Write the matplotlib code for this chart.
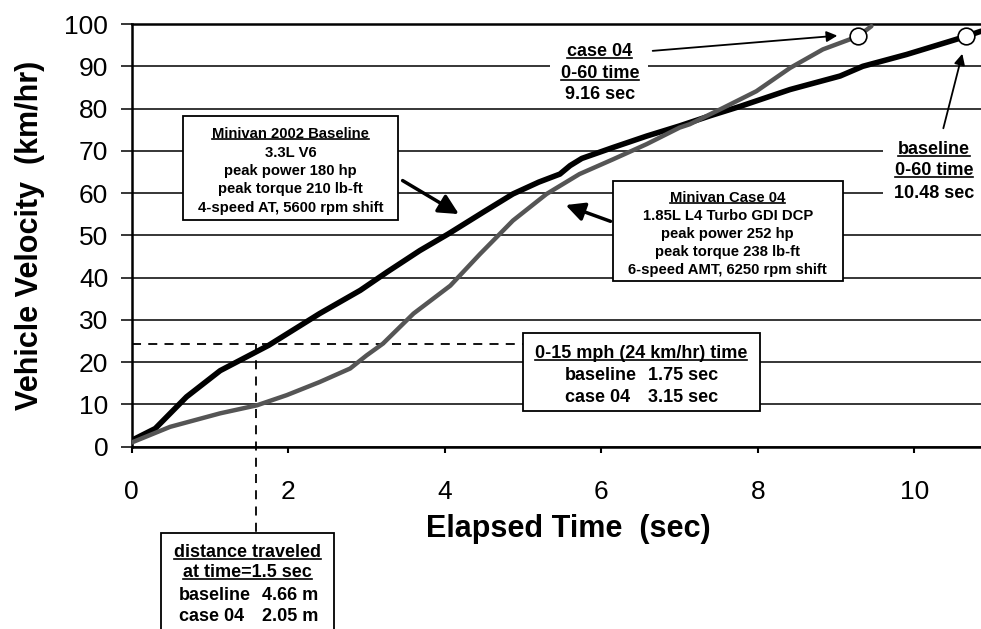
import numpy as np
import matplotlib
matplotlib.use("Agg")
import matplotlib.pyplot as plt
from matplotlib.patches import Rectangle
from matplotlib.lines import Line2D

plt.rcParams['font.family'] = ['Liberation Sans', 'DejaVu Sans']

# baseline minivan 2002 (time s, velocity km/h)
t_base = [0.0, 0.3, 0.7, 1.13, 1.75, 2.4, 2.92, 3.26, 3.68, 4.04, 4.5, 4.87, 5.2, 5.47,
          5.6, 5.75, 6.15, 6.58, 7.0, 7.39, 7.77, 8.41, 9.05, 9.34, 9.9, 10.45, 10.66, 10.85]
v_base = [1.5, 4.3, 11.8, 18.0, 24.0, 31.5, 37.0, 41.3, 46.4, 50.3, 55.6, 59.8, 62.6, 64.5,
          66.5, 68.2, 70.8, 73.5, 75.9, 78.3, 80.5, 84.5, 87.7, 90.0, 92.8, 95.9, 97.1, 98.3]

# minivan case 04
t_case = [0.0, 0.49, 1.13, 1.6, 1.98, 2.4, 2.79, 3.0, 3.21, 3.6, 4.07, 4.45, 4.87, 5.3,
          5.72, 6.15, 6.58, 7.0, 7.13, 7.56, 7.98, 8.41, 8.83, 9.28, 9.45]
v_case = [1.0, 4.7, 7.9, 9.8, 12.2, 15.3, 18.5, 21.6, 24.4, 31.5, 38.1, 45.6, 53.5, 59.8,
          64.5, 68.0, 71.6, 75.5, 76.3, 80.2, 84.1, 89.6, 94.0, 97.1, 99.5]

# 0-60 mph markers
t_060 = [9.28, 10.66]
v_060 = [97.1, 97.1]

fig = plt.figure(figsize=(9.81, 6.29), dpi=100)
ax = fig.add_axes([0.1343, 0.2898, 0.8657, 0.672])

ax.set_xlim(0, 10.85)
ax.set_ylim(0, 100)
ax.set_xticks(np.arange(0, 11, 2))
ax.set_yticks(np.arange(0, 101, 10))
ax.grid(axis='y', color='black', lw=1.1)
ax.set_axisbelow(True)
ax.spines['right'].set_visible(False)
for s in ['left', 'bottom', 'top']:
    ax.spines[s].set_linewidth(1.8)
ax.tick_params(axis='y', direction='out', length=8, width=1.1, pad=9, labelsize=19)
ax.tick_params(axis='x', direction='out', length=4, width=1.5, pad=20, labelsize=19)

ax.set_xlabel('Elapsed Time  (sec)', fontsize=22, fontweight='bold')
ax.xaxis.set_label_coords(0.514, -0.16)
ax.set_ylabel('Vehicle Velocity  (km/hr)', fontsize=22, fontweight='bold', labelpad=14)

ax.plot(t_base, v_base, color='black', lw=4.0, zorder=4, solid_capstyle='round')
ax.plot(t_case, v_case, color='#555555', lw=3.2, zorder=5, solid_capstyle='round')
ax.plot(t_060, v_060, 'o', ms=12, mfc='white', mec='black', mew=1.2, zorder=6)

# dashed reference lines
ax.plot([0, 5.0], [24.4, 24.4], color='black', lw=1.3, ls=(0, (5, 4)), zorder=3)
ax.plot([1.59, 1.59], [24.4, -20.35], color='black', lw=1.3, ls=(0, (5, 4)), zorder=3, clip_on=False)

underlined = []


def block(x, ys, lines, size, under=()):
    for i, (y, s) in enumerate(zip(ys, lines)):
        t = ax.text(x, y, s, ha='center', va='center', fontsize=size, fontweight='bold',
                    zorder=8, clip_on=False)
        if i in under:
            underlined.append(t)


def box(x0, y0, x1, y1, edge=True):
    ax.add_patch(Rectangle((x0, y0), x1 - x0, y1 - y0, fc='white',
                           ec='black' if edge else 'none', lw=1.3, zorder=7, clip_on=False))


# baseline description
box(0.656, 53.7, 3.40, 78.2)
block(2.03, [73.9, 69.6, 65.2, 60.9, 56.5],
      ['Minivan 2002 Baseline', '3.3L V6', 'peak power 180 hp', 'peak torque 210 lb-ft',
       '4-speed AT, 5600 rpm shift'], 10.7, under=(0,))
ax.annotate('', xy=(4.21, 54.7), xytext=(3.43, 63.3),
            arrowprops=dict(arrowstyle='-|>', lw=2.5, mutation_scale=30, color='black'), zorder=8)

# case 04 description
box(6.148, 39.3, 9.085, 62.9)
block(7.615, [58.9, 54.6, 50.4, 46.1, 41.9],
      ['Minivan Case 04', '1.85L L4 Turbo GDI DCP', 'peak power 252 hp', 'peak torque 238 lb-ft',
       '6-speed AMT, 6250 rpm shift'], 10.7, under=(0,))
ax.annotate('', xy=(5.51, 57.4), xytext=(6.15, 53.1),
            arrowprops=dict(arrowstyle='-|>', lw=2.5, mutation_scale=28, color='black'), zorder=8)

# 0-15 mph box
box(4.997, 8.4, 8.025, 26.8)
underlined.append(ax.text(6.51, 22.1, '0-15 mph (24 km/hr) time', ha='center', va='center',
                          fontsize=13, fontweight='bold', zorder=8))
for y, a, b in [(16.9, 'baseline', '1.75 sec'), (11.7, 'case 04', '3.15 sec')]:
    ax.text(5.534, y, a, ha='left', va='center', fontsize=13, fontweight='bold', zorder=8)
    ax.text(6.594, y, b, ha='left', va='center', fontsize=13, fontweight='bold', zorder=8)

# case 04 0-60 label
box(5.34, 81.8, 6.59, 97.1, edge=False)
block(5.98, [93.5, 88.4, 83.4], ['case 04', '0-60 time', '9.16 sec'], 13, under=(0, 1))
ax.annotate('', xy=(9.05, 97.3), xytext=(6.62, 93.6),
            arrowprops=dict(arrowstyle='-|>', lw=1.3, mutation_scale=16, color='black'), zorder=8)

# baseline 0-60 label
box(9.6, 57.5, 11.2, 73.0, edge=False)
block(10.25, [70.4, 65.3, 60.0], ['baseline', '0-60 time', '10.48 sec'], 13, under=(0, 1))
ax.annotate('', xy=(10.62, 93.6), xytext=(10.36, 74.7),
            arrowprops=dict(arrowstyle='-|>', lw=1.3, mutation_scale=16, color='black'), zorder=8)

# distance traveled box (below the axis)
box(0.374, -48.0, 2.585, -20.35)
block(1.479, [-25.1, -29.8], ['distance traveled', 'at time=1.5 sec'], 13, under=(0, 1))
for y, a, b in [(-35.2, 'baseline', '4.66 m'), (-40.2, 'case 04', '2.05 m')]:
    ax.text(0.605, y, a, ha='left', va='center', fontsize=13, fontweight='bold', zorder=8, clip_on=False)
    ax.text(1.664, y, b, ha='left', va='center', fontsize=13, fontweight='bold', zorder=8, clip_on=False)

# underline the headings
fig.canvas.draw()
r = fig.canvas.get_renderer()
W, H = fig.bbox.width, fig.bbox.height
for t in underlined:
    bb = t.get_window_extent(r)
    y = (bb.y0 + 2) / H
    fig.add_artist(Line2D([bb.x0 / W, bb.x1 / W], [y, y], color='black', lw=1.2, zorder=10))

fig.savefig('out.png', dpi=100)
